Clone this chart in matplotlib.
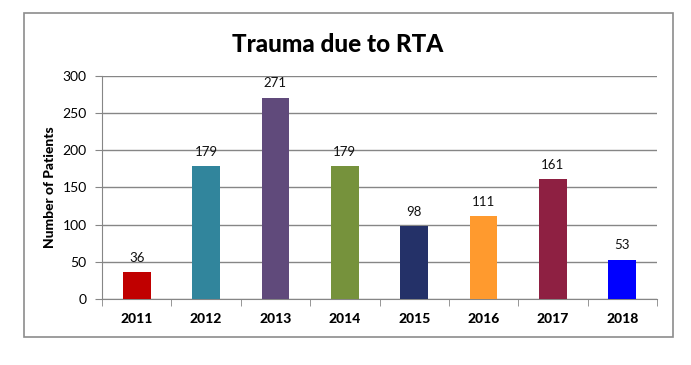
import matplotlib.pyplot as plt
from matplotlib.patches import Rectangle
import numpy as np

years = ['2011', '2012', '2013', '2014', '2015', '2016', '2017', '2018']
patients = [36, 179, 271, 179, 98, 111, 161, 53]
bar_colors = ['#C00000', '#31859C', '#604A7B', '#76923C', '#243168', '#FF9A2E', '#8E2042', '#0000FF']

plt.rcParams['font.family'] = ['Lato', 'DejaVu Sans']

fig = plt.figure(figsize=(6.91, 3.65), dpi=100)
fig.patches.append(Rectangle((24 / 691, 1 - 337 / 365), 649 / 691, 324 / 365,
                             transform=fig.transFigure, fill=False,
                             edgecolor='#8c8c8c', linewidth=1.2))

ax = fig.add_axes([102 / 691, 1 - 299 / 365, 555 / 691, 223 / 365])
x = np.arange(len(years))
ax.bar(x, patients, width=0.4, color=bar_colors, zorder=3)
for xi, v in zip(x, patients):
    ax.text(xi, v + 11, str(v), ha='center', va='bottom', fontsize=9.5, color='#111111')

ax.set_xlim(-0.5, len(years) - 0.5)
ax.set_ylim(0, 300)
ax.set_yticks(range(0, 301, 50))
ax.yaxis.grid(True, color='#868686', linewidth=1, zorder=0)
ax.set_xticks(x)
ax.set_xticklabels(years, fontweight='black', fontsize=10)
ax.set_xticks(np.arange(-0.5, len(years)), minor=True)
ax.tick_params(axis='x', which='major', length=0, pad=10)
ax.tick_params(axis='x', which='minor', length=5, color='#868686')
ax.tick_params(axis='y', length=5, color='#868686', labelsize=10, pad=6)
for side in ['top', 'right']:
    ax.spines[side].set_visible(False)
for side in ['left', 'bottom']:
    ax.spines[side].set_color('#868686')
ax.set_ylabel('Number of Patients', fontweight='black', fontsize=10, labelpad=5)

fig.text(338 / 691, 1 - 45 / 365, 'Trauma due to RTA', ha='center', va='center',
         fontsize=17.5, fontweight='black')

fig.savefig('out.png', dpi=100)
